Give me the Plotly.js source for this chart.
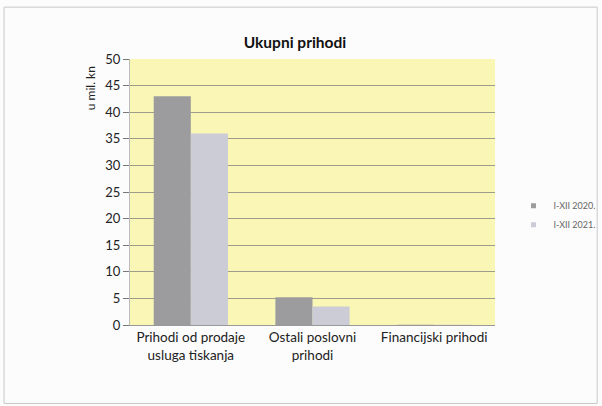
<!DOCTYPE html>
<html><head><meta charset="utf-8">
<script src="https://cdn.plot.ly/plotly-3.0.1.min.js"></script>
<style>html,body{margin:0;padding:0;background:#fff;}#chart{width:602px;height:406px;}</style>
</head><body><div id="chart"></div>
<script>
const categories = ["Prihodi od prodaje<br>usluga tiskanja", "Ostali poslovni<br>prihodi", "Financijski prihodi"];
const series2020 = [43, 5.2, 0.05];
const series2021 = [36, 3.5, 0.03];
const seriesNames = ["I-XII 2020.", "I-XII 2021."];
const seriesColors = ["#9c9c9e", "#cbccd6"];
const yTicks = [0, 5, 10, 15, 20, 25, 30, 35, 40, 45, 50];
const yTitle = "u mil. kn";

const font = "Lato, 'Open Sans', sans-serif";
const data = [
  {type: "bar", x: categories, y: series2020, name: seriesNames[0], marker: {color: seriesColors[0]}, showlegend: false},
  {type: "bar", x: categories, y: series2021, name: seriesNames[1], marker: {color: seriesColors[1]}, showlegend: false},
  {type: "scatter", mode: "markers", x: [categories[0]], y: [null], name: seriesNames[0], marker: {symbol: "square", size: 5, color: seriesColors[0]}},
  {type: "scatter", mode: "markers", x: [categories[0]], y: [null], name: seriesNames[1], marker: {symbol: "square", size: 5, color: seriesColors[1]}}
];
const layout = {
  width: 602, height: 406,
  margin: {l: 130, r: 107, t: 59, b: 81},
  paper_bgcolor: "#fcfcfc",
  plot_bgcolor: "#f9f6b6",
  font: {family: font, color: "#222", size: 12},
  title: {text: "<b>Ukupni prihodi</b>", x: 0.49, xanchor: "center", y: 0.895, yanchor: "middle", font: {size: 15.5, color: "#111", family: font}},
  barmode: "group",
  bargap: 0.39,
  bargroupgap: 0,
  showlegend: true,
  legend: {xref: "container", yref: "container", x: 0.853, y: 0.47, xanchor: "left", yanchor: "middle",
           font: {size: 9, color: "#666"}, bgcolor: "rgba(0,0,0,0)", itemwidth: 30, tracegroupgap: 4},
  xaxis: {tickfont: {size: 13.5, color: "#222"}, showline: true, linecolor: "#999", ticks: "", automargin: false},
  yaxis: {range: [0, 50], tickvals: yTicks, ticktext: yTicks.map(String), gridcolor: "#777", gridwidth: 0.7, zeroline: false,
          showline: true, linecolor: "#bbb", ticks: "outside", ticklen: 6, tickcolor: "#777", tickfont: {size: 13, color: "#222"},
          automargin: false},
  annotations: [{text: yTitle, xref: "paper", yref: "paper", x: -0.11, y: 0.98, xanchor: "center", yanchor: "top",
                 textangle: -90, showarrow: false, font: {size: 12, color: "#222"}}],
  shapes: [{type: "rect", xref: "paper", yref: "paper", x0: -0.345, x1: 1.28, y0: -0.295, y1: 1.195,
            line: {color: "#c8c8c8", width: 1}}]
};
Plotly.newPlot("chart", data, layout, {displayModeBar: false, staticPlot: true});
</script></body></html>
